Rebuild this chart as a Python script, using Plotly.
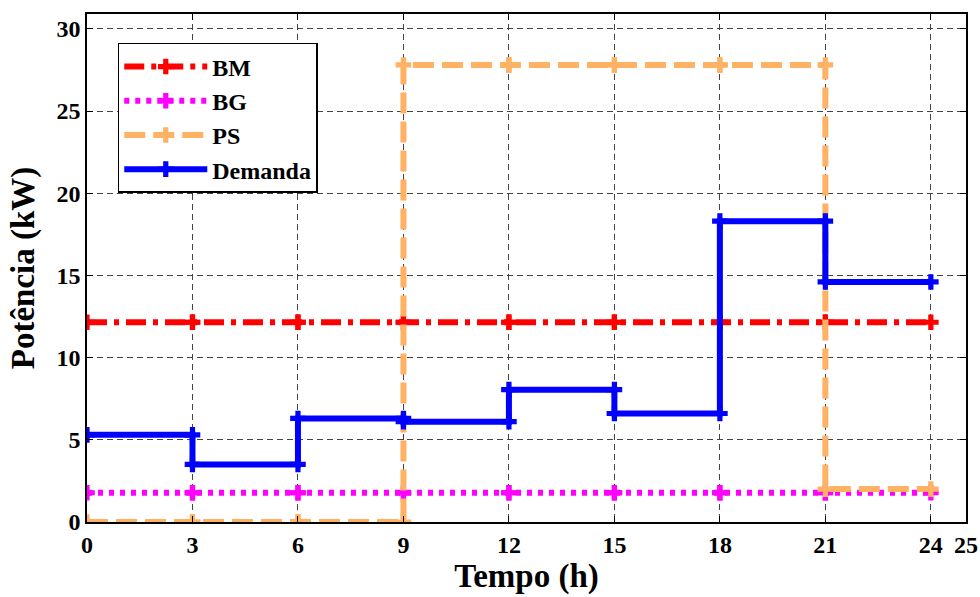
import plotly.graph_objects as go

# Data (values per 3-hour block, starting at each hour in block_starts)
block_starts = [0, 3, 6, 9, 12, 15, 18, 21]
block_len = 3
bm_values = [12.15, 12.15, 12.15, 12.15, 12.15, 12.15, 12.15, 12.15]
bg_values = [1.78, 1.78, 1.78, 1.78, 1.78, 1.78, 1.78, 1.78]
ps_values = [0.0, 0.0, 0.0, 27.8, 27.8, 27.8, 27.8, 2.0]
demanda_values = [5.3, 3.5, 6.3, 6.1, 8.05, 6.6, 18.3, 14.6]

x_ticks = [0, 3, 6, 9, 12, 15, 18, 21, 24, 25]
y_ticks = [0, 5, 10, 15, 20, 25, 30]


def steps(starts, vals):
    xs, ys = [], []
    for s, v in zip(starts, vals):
        xs += [s, s + block_len]
        ys += [v, v]
    return xs, ys


FONT = "Liberation Serif"

series = [
    ("BM", bm_values, "#FF0000", "20px,7px,5px,7px"),
    ("BG", bg_values, "#FF00FF", "5px,6px"),
    ("PS", ps_values, "#FFB164", "21px,8px"),
    ("Demanda", demanda_values, "#0000FF", "solid"),
]

fig = go.Figure()
for i, (name, vals, color, dash) in enumerate(series):
    xs, ys = steps(block_starts, vals)
    fig.add_trace(go.Scatter(
        x=xs, y=ys, name=name, mode="lines+markers",
        legendgroup=f"g{i}",
        line=dict(color=color, width=6, dash=dash),
        marker=dict(symbol="cross", size=13, color=color),
    ))

axis_common = dict(
    showline=True, linecolor="black", linewidth=1.5, mirror="allticks",
    ticks="inside", ticklen=6, tickcolor="black",
    showgrid=True, gridcolor="#444444", gridwidth=1, griddash="6px,4px",
    zeroline=False, automargin=False,
    tickfont=dict(family=FONT, size=24, color="black", weight="bold"),
)

fig.update_xaxes(range=[0, 25], tickvals=x_ticks, ticktext=[str(t) for t in x_ticks],
                 title=dict(text="Tempo (h)", font=dict(family=FONT, size=33, color="black", weight="bold"),
                            standoff=4),
                 **axis_common)
fig.update_yaxes(range=[0, 30.9], tickvals=y_ticks, ticktext=[str(t) for t in y_ticks],
                 title=dict(text="Potência (kW)", font=dict(family=FONT, size=33, color="black", weight="bold"),
                            standoff=12),
                 **axis_common)

fig.update_layout(
    width=980, height=597,
    margin=dict(l=87, r=14, t=14, b=75),
    plot_bgcolor="white", paper_bgcolor="white",
    legend=dict(
        x=0.035, y=0.943, xanchor="left", yanchor="top",
        bgcolor="white", bordercolor="black", borderwidth=1.5,
        font=dict(family=FONT, size=24, color="black", weight="bold"),
        traceorder="grouped", tracegroupgap=0, itemwidth=83,
    ),
    font=dict(family=FONT, color="black"),
)

fig.write_html("out.html", config={"displayModeBar": False},
               post_script="document.body.style.margin='0';")
